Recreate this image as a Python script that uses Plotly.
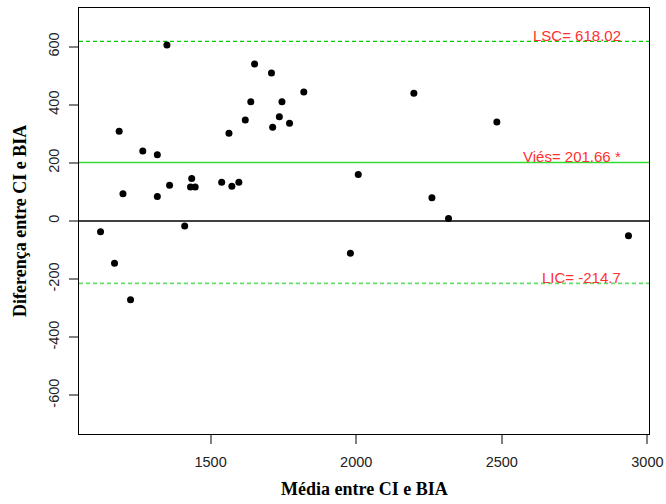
import plotly.graph_objects as go

# Bland-Altman: mean of the two methods vs. their difference
media = [1350, 1651, 1709, 1820, 1638, 1745, 1736, 1619, 1771, 1713,
         1563, 1186, 1267, 1317, 2007, 1435, 1359, 1431, 1447, 1538,
         1573, 1597, 1199, 1317, 1122, 1411, 1170, 1225, 1980, 2198,
         2483, 2260, 2317, 2935]
diferenca = [606, 540, 509, 444, 410, 410, 359, 348, 336, 323,
             302, 309, 241, 228, 160, 146, 123, 117, 117, 133,
             120, 133, 94, 84, -37, -17, -145, -271, -111, 440,
             341, 80, 9, -51]

vies = 201.66
lsc = 618.02
lic = -214.7

x_ticks = [1500, 2000, 2500, 3000]
y_ticks = [-600, -400, -200, 0, 200, 400, 600]

fig = go.Figure()

# reference lines: zero, bias and limits of agreement
lines = [
    (0, "black", "solid", 1.3),
    (vies, "#33dd33", "solid", 1.5),
    (lsc, "#00cc00", "4px,3px", 1.4),
    (lic, "#66dd66", "4px,3px", 1.6),
]
for yv, col, dash, w in lines:
    fig.add_trace(go.Scatter(
        x=[1048, 3005.5], y=[yv, yv], mode="lines",
        line=dict(color=col, width=w, dash=dash),
        showlegend=False, hoverinfo="skip",
    ))

fig.add_trace(go.Scatter(
    x=media, y=diferenca, mode="markers",
    marker=dict(color="black", size=7, line=dict(width=0)),
    showlegend=False, hoverinfo="skip",
))

labels = [
    (lsc, f"LSC= {lsc}"),
    (vies, f"Viés= {vies} *"),
    (lic, f"LIC= {lic}"),
]
for yv, txt in labels:
    fig.add_annotation(x=2915, y=yv, xref="x", yref="y", text=txt,
                       showarrow=False, xanchor="right", yanchor="middle", yshift=6,
                       font=dict(family="Liberation Sans, Arial", size=15, color="#ff3030"))

title_font = dict(family="Liberation Serif, Times New Roman", size=18, color="black")
fig.add_annotation(x=0.5, y=0, xref="paper", yref="paper", text="<b>Média entre CI e BIA</b>",
                   showarrow=False, xanchor="center", yanchor="middle", yshift=-55,
                   font=title_font)
fig.add_annotation(x=0, y=0.5, xref="paper", yref="paper", text="<b>Diferença entre CI e BIA</b>",
                   showarrow=False, xanchor="center", yanchor="middle", xshift=-59,
                   textangle=-90, font=title_font)

tick_font = dict(family="Liberation Sans, Arial", size=14.5, color="#222")
fig.update_xaxes(
    range=[1048, 3005.5], tickvals=x_ticks, ticktext=[str(v) for v in x_ticks],
    showgrid=False, zeroline=False, showline=True, linecolor="black", linewidth=1,
    mirror=True, ticks="outside", ticklen=9, tickcolor="#808080", tickwidth=1.5,
    tickfont=tick_font, ticklabelstandoff=6, automargin=False,
)
fig.update_yaxes(
    range=[-733, 733], tickvals=y_ticks, ticktext=[str(v) for v in y_ticks],
    showgrid=False, zeroline=False, showline=True, linecolor="black", linewidth=1,
    mirror=True, ticks="outside", ticklen=9, tickcolor="#808080", tickwidth=1.5,
    tickfont=tick_font, tickangle=-90, ticklabelstandoff=4, automargin=False,
)
fig.update_layout(
    width=666, height=504,
    margin=dict(l=79, r=17, t=8, b=70),
    plot_bgcolor="white", paper_bgcolor="white",
)
fig.write_html("out.html")
